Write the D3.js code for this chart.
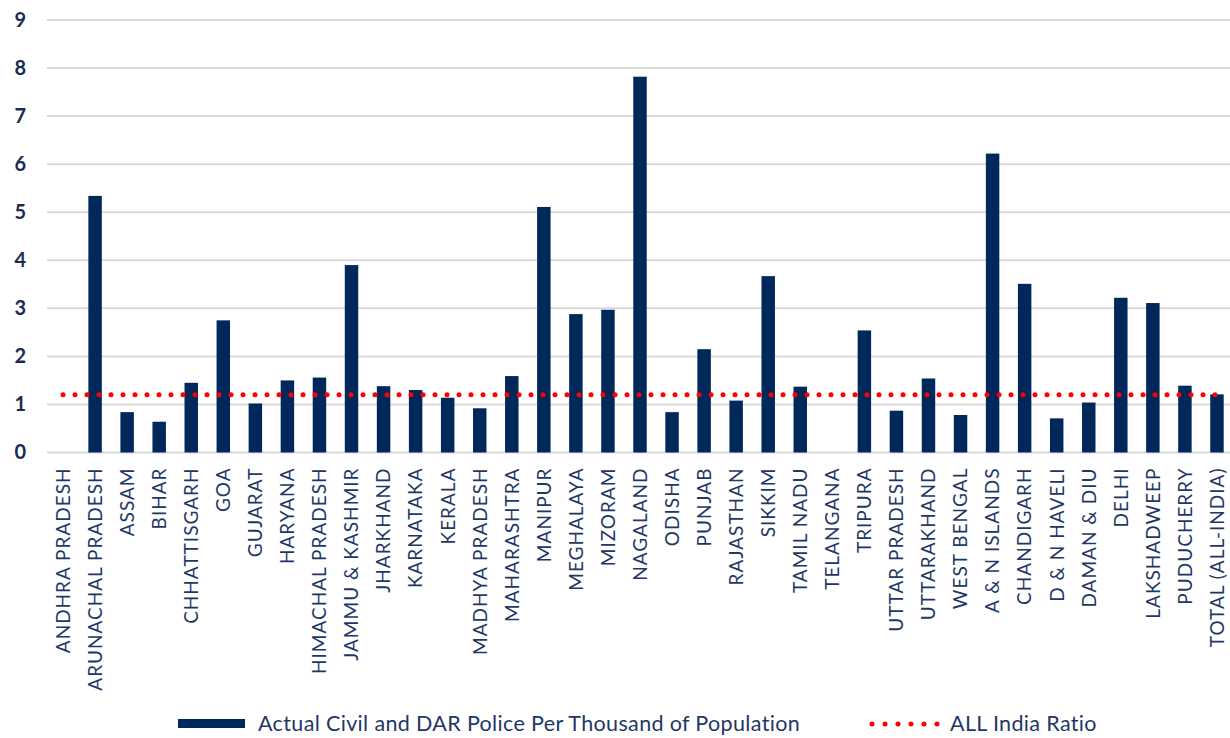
<!DOCTYPE html>
<html>
<head>
<meta charset="utf-8">
<script src="https://cdn.jsdelivr.net/npm/d3@7"></script>
<style>
  html, body { margin: 0; padding: 0; background: #ffffff; }
  svg { display: block; }
</style>
</head>
<body>
<svg id="chart" width="1230" height="738"></svg>
<script>
const categories = [
  "ANDHRA PRADESH", "ARUNACHAL PRADESH", "ASSAM", "BIHAR", "CHHATTISGARH", "GOA",
  "GUJARAT", "HARYANA", "HIMACHAL PRADESH", "JAMMU & KASHMIR", "JHARKHAND", "KARNATAKA",
  "KERALA", "MADHYA PRADESH", "MAHARASHTRA", "MANIPUR", "MEGHALAYA", "MIZORAM",
  "NAGALAND", "ODISHA", "PUNJAB", "RAJASTHAN", "SIKKIM", "TAMIL NADU", "TELANGANA",
  "TRIPURA", "UTTAR PRADESH", "UTTARAKHAND", "WEST BENGAL", "A & N ISLANDS",
  "CHANDIGARH", "D & N HAVELI", "DAMAN & DIU", "DELHI", "LAKSHADWEEP", "PUDUCHERRY",
  "TOTAL (ALL-INDIA)"
];
const policeRatio = [
  0, 5.34, 0.84, 0.64, 1.45, 2.75,
  1.02, 1.50, 1.56, 3.90, 1.38, 1.30,
  1.14, 0.92, 1.59, 5.11, 2.88, 2.97,
  7.82, 0.84, 2.15, 1.08, 3.67, 1.37, 0,
  2.54, 0.87, 1.54, 0.78, 6.22,
  3.51, 0.71, 1.04, 3.22, 3.11, 1.39,
  1.21
];
const allIndiaRatio = 1.2;
const yTicks = [0, 1, 2, 3, 4, 5, 6, 7, 8, 9];
const legendLabels = ["Actual Civil and DAR Police Per Thousand of Population", "ALL India Ratio"];

const svg = d3.select("#chart");
const barColor = "#00285a";
const lineColor = "#ff0000";
const textColor = "#1f3766";

const x = d3.scaleBand()
  .domain(categories)
  .range([47, 1233])
  .paddingInner(0.58)
  .paddingOuter(0.29);

const y = d3.scaleLinear().domain([0, 9]).range([452.5, 20]);

// gridlines
svg.append("g")
  .selectAll("line")
  .data(yTicks)
  .join("line")
  .attr("x1", 47)
  .attr("x2", 1230)
  .attr("y1", d => y(d))
  .attr("y2", d => y(d))
  .attr("stroke", "#d9d9d9")
  .attr("stroke-width", 2);

// y axis labels
const yAxis = d3.axisLeft(y).tickValues(yTicks).tickSize(0).tickPadding(0).tickFormat(d3.format("d"));
const yg = svg.append("g").attr("transform", "translate(26,0)").call(yAxis);
yg.select(".domain").remove();
yg.selectAll("text")
  .attr("font-family", "Lato, 'Open Sans', sans-serif")
  .attr("font-weight", "700")
  .attr("font-size", "20px")
  .attr("fill", "#1b2b4f");

// bars
svg.append("g")
  .selectAll("rect")
  .data(categories.map((c, i) => ({ c, v: policeRatio[i] })))
  .join("rect")
  .attr("x", d => x(d.c))
  .attr("width", x.bandwidth())
  .attr("y", d => y(d.v))
  .attr("height", d => y(0) - y(d.v))
  .attr("fill", barColor);

// all india dotted line
const lineData = categories.map(c => ({ c, v: allIndiaRatio }));
svg.append("path")
  .datum(lineData)
  .attr("d", d3.line().x(d => x(d.c) + x.bandwidth() / 2).y(d => y(d.v)))
  .attr("fill", "none")
  .attr("stroke", lineColor)
  .attr("stroke-width", 5)
  .attr("stroke-linecap", "round")
  .attr("stroke-dasharray", "0 12");

// x axis labels
const xAxis = d3.axisBottom(x).tickSize(0).tickPadding(0);
const xg = svg.append("g").attr("transform", `translate(0,${y(0)})`).call(xAxis);
xg.select(".domain").remove();
xg.selectAll("text")
  .attr("transform", "translate(0,15) rotate(-90)")
  .attr("text-anchor", "end")
  .attr("x", 0)
  .attr("y", 0)
  .attr("dy", "0.36em")
  .attr("font-family", "Lato, 'Open Sans', sans-serif")
  .attr("font-size", "19px")
  .attr("letter-spacing", "1px")
  .attr("fill", textColor);

// legend
const lg = svg.append("g");
lg.append("rect")
  .attr("x", 178).attr("y", 719).attr("width", 67).attr("height", 9)
  .attr("fill", barColor);
lg.append("text")
  .attr("x", 258).attr("y", 731)
  .attr("font-family", "Lato, 'Open Sans', sans-serif")
  .attr("font-size", "21.5px")
  .attr("letter-spacing", "0.35px")
  .attr("fill", textColor)
  .text(legendLabels[0]);
lg.append("line")
  .attr("x1", 872).attr("x2", 938).attr("y1", 724).attr("y2", 724)
  .attr("stroke", lineColor)
  .attr("stroke-width", 5)
  .attr("stroke-linecap", "round")
  .attr("stroke-dasharray", "0 13");
lg.append("text")
  .attr("x", 950).attr("y", 731)
  .attr("font-family", "Lato, 'Open Sans', sans-serif")
  .attr("font-size", "21.5px")
  .attr("letter-spacing", "0.35px")
  .attr("fill", textColor)
  .text(legendLabels[1]);
</script>
</body>
</html>
